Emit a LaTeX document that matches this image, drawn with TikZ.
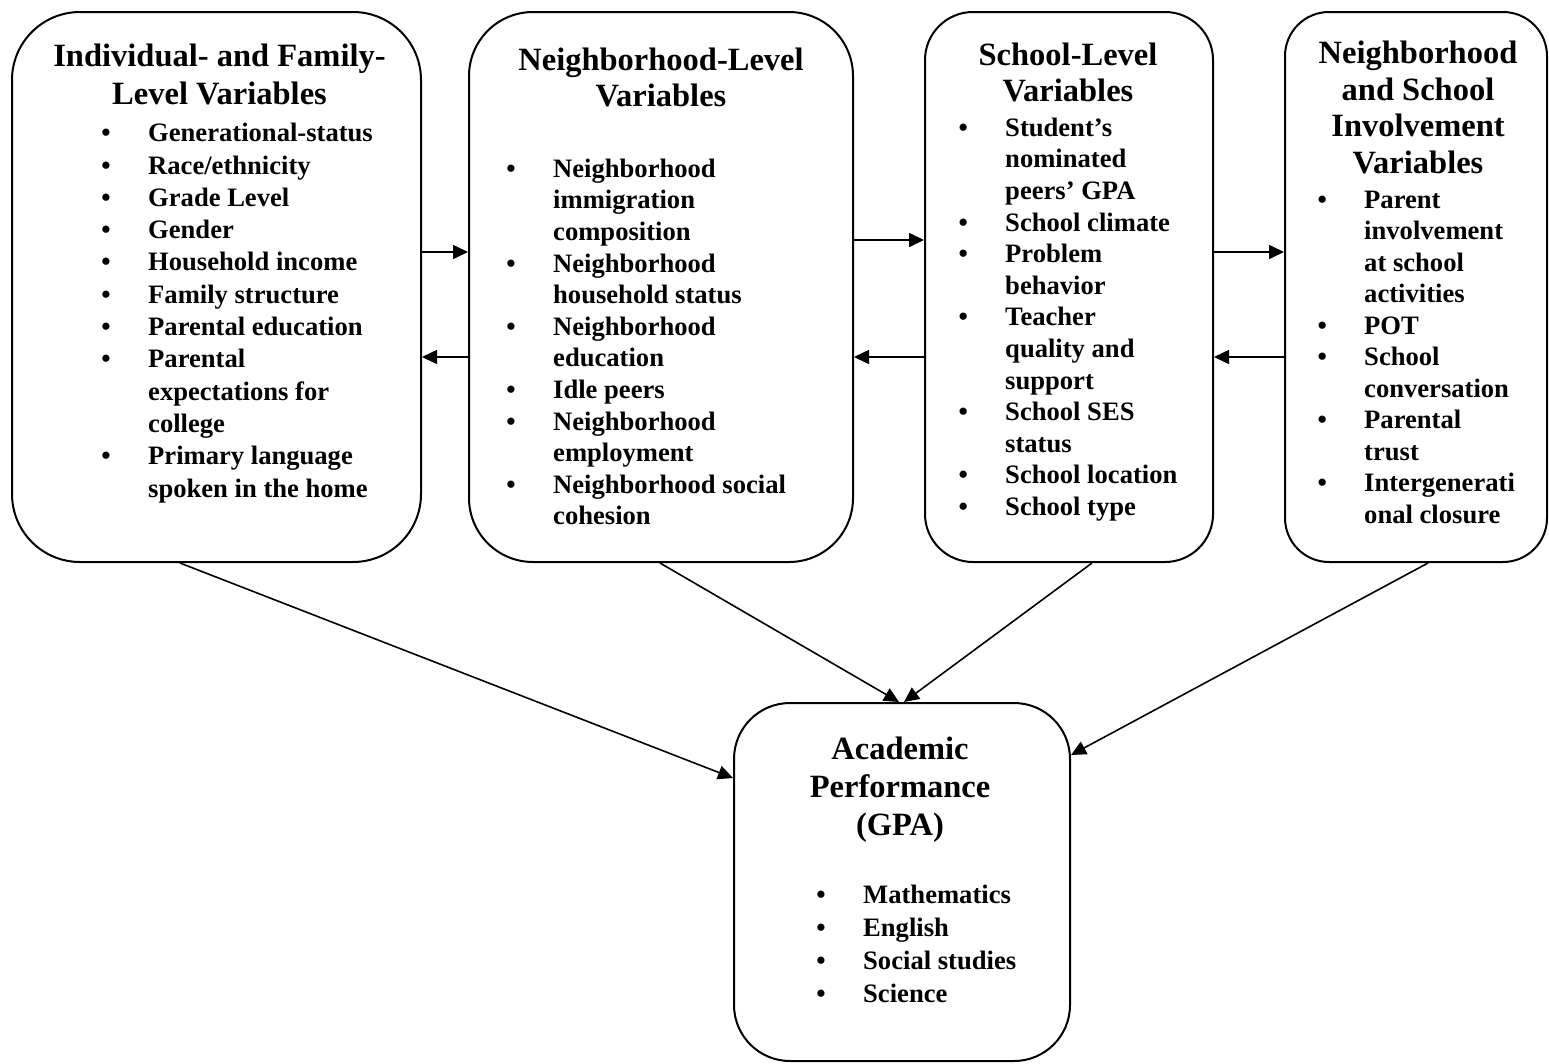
\documentclass[tikz,border=0pt]{standalone}
\usepackage{fontspec}
\setmainfont{Liberation Serif}
\usetikzlibrary{arrows.meta}
\newcommand\bul{\llap{\textbullet\hspace{37.4pt}}}
\newcommand\fstl{\rule{0pt}{25pt}}
\newcommand\fstt{\rule{0pt}{31pt}}
\tikzset{
  box/.style={draw, line width=2pt, inner sep=0pt, rectangle},
  arr/.style={line width=1.6pt, -{Triangle[length=15pt,width=14pt]}},
  ttl/.style={anchor=north, align=center, inner sep=0pt, font=\fontsize{32.5pt}{#1}\selectfont\bfseries},
  lst/.style={anchor=north west, align=left, inner sep=0pt, font=\fontsize{26.6pt}{#1}\selectfont\bfseries},
}
\begin{document}
\begin{tikzpicture}[x=1pt, y=-1pt]
\useasboundingbox (0,0) rectangle (1549,1063);
% boxes
\node[box, minimum width=409pt, minimum height=550pt, rounded corners=68pt] (b1) at (216.5,287) {};
\node[box, minimum width=384pt, minimum height=550pt, rounded corners=64pt] (b2) at (661,287) {};
\node[box, minimum width=288pt, minimum height=550pt, rounded corners=48pt] (b3) at (1069,287) {};
\node[box, minimum width=262pt, minimum height=550pt, rounded corners=44pt] (b4) at (1416,287) {};
\node[box, minimum width=336pt, minimum height=358pt, rounded corners=56pt] (b5) at (902,882) {};
% titles
\node[ttl=37.3pt] (t1) at (219.5,35.7) {\fstt Individual- and Family-\\Level Variables};
\node[ttl=36pt] (t2) at (661,39) {\fstt Neighborhood-Level\\Variables};
\node[ttl=36pt] (t3) at (1068,34) {\fstt School-Level\\Variables};
\node[ttl=36.8pt] (t4) at (1418,32) {\fstt Neighborhood\\and School\\Involvement\\Variables};
\node[ttl=38pt] (t5) at (900,728) {\fstt Academic\\Performance\\(GPA)};
% lists
\node[lst=32.3pt] (l1) at (148,116.5) {\bul\fstl Generational-status\\
\bul Race/ethnicity\\
\bul Grade Level\\
\bul Gender\\
\bul Household income\\
\bul Family structure\\
\bul Parental education\\
\bul Parental\\
expectations for\\
college\\
\bul Primary language\\
spoken in the home};
\node[lst=31.6pt] (l2) at (553,152) {\bul\fstl Neighborhood\\
immigration\\
composition\\
\bul Neighborhood\\
household status\\
\bul Neighborhood\\
education\\
\bul Idle peers\\
\bul Neighborhood\\
employment\\
\bul Neighborhood social\\
cohesion};
\node[lst=31.6pt] (l3) at (1005,111) {\bul\fstl Student’s\\
nominated\\
peers’ GPA\\
\bul School climate\\
\bul Problem\\
behavior\\
\bul Teacher\\
quality and\\
support\\
\bul School SES\\
status\\
\bul School location\\
\bul School type};
\node[lst=31.5pt] (l4) at (1364,183) {\bul\fstl Parent\\
involvement\\
at school\\
activities\\
\bul POT\\
\bul School\\
conversation\\
\bul Parental\\
trust\\
\bul Intergenerati\\
onal closure};
\node[lst=33pt] (l5) at (863,878) {\bul\fstl Mathematics\\
\bul English\\
\bul Social studies\\
\bul Science};
% horizontal connectors
\draw[arr] (b1.east |- 0,252) -- (b2.west |- 0,252);
\draw[arr] (b2.west |- 0,357) -- (b1.east |- 0,357);
\draw[arr] (b2.east |- 0,240) -- (b3.west |- 0,240);
\draw[arr] (b3.west |- 0,357) -- (b2.east |- 0,357);
\draw[arr] (b3.east |- 0,252) -- (b4.west |- 0,252);
\draw[arr] (b4.west |- 0,357) -- (b3.east |- 0,357);
% diagonal connectors
\draw[arr] (b1.south -| 180,0) -- (b5.west |- 0,778);
\draw[arr] (b2.south -| 660,0) -- (b5.north -| 899,0);
\draw[arr] (b3.south -| 1092,0) -- (b5.north -| 904,0);
\draw[arr] (b4.south -| 1428,0) -- (b5.east |- 0,755);
\end{tikzpicture}
\end{document}
